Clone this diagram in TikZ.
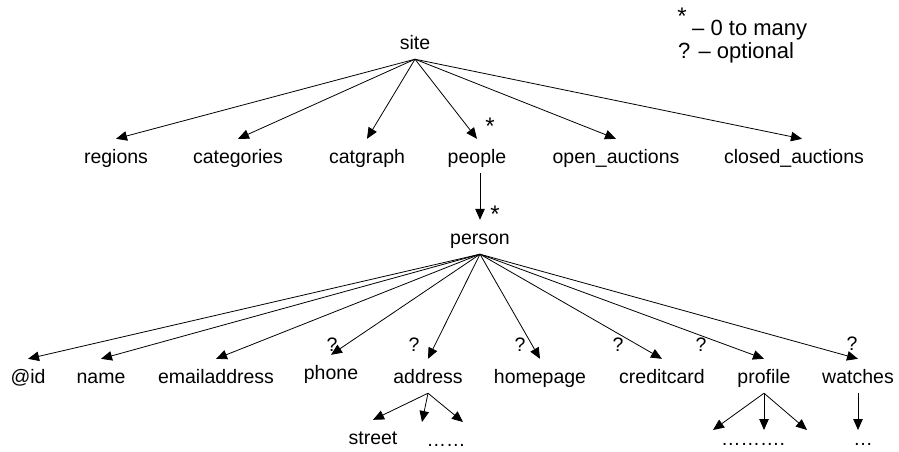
\documentclass[tikz,border=0pt]{standalone}
\usepackage{fontspec}
\setmainfont{Liberation Sans}
\usetikzlibrary{arrows.meta}

\begin{document}
\begin{tikzpicture}[x=1pt,y=-1pt,
    lbl/.style={anchor=base,font=\fontsize{19.5}{22}\selectfont,inner xsep=1pt,inner ysep=10pt,text height=14pt,text depth=0pt},
    dots/.style={lbl,inner ysep=0pt},
    qmark/.style={inner sep=0pt,font=\fontsize{19.5}{22}\selectfont},
    starmark/.style={inner sep=0pt,font=\fontsize{24}{26}\selectfont},
    legend/.style={anchor=base west,inner sep=0pt,font=\fontsize{22}{24}\selectfont},
    link/.style={-{Triangle[length=11pt,width=9.5pt]},line width=0.8pt}]
                                \useasboundingbox (0,0) rectangle (899,451);
                                % legend
                                \node[starmark] (legstar) at (682,16) {*};
                                \node[legend] (legmany) at (692,35) {– 0 to many};
                                \node[legend] (legopt) at (678,58) {? – optional};
                                % root and first level
                                \node[lbl] (site) at (415,49) {site};
                                \node[lbl] (regions) at (116,163) {regions};
                                \node[lbl] (categories) at (238,163) {categories};
                                \node[lbl] (catgraph) at (367,163) {catgraph};
                                \node[lbl] (people) at (477,163) {people};
                                \node[lbl] (open) at (616,163) {open\_auctions};
                                \node[lbl] (closed) at (794,163) {closed\_auctions};
                                \foreach \c in {regions,categories,catgraph,people,open}
                                    \draw[link] (site.south) -- (\c.north);
                                \draw[link] (site.south) -- ([xshift=8pt]closed.north);
                                \node[starmark] (peoplestar) at (490,126) {*};
                                % person
                                \node[lbl] (person) at (480,244) {person};
                                \draw[link] (person.north |- people.south) -- (person.north);
                                \node[starmark] (personstar) at (495,214) {*};
                                % children of person
                                \node[lbl] (atid) at (28,383) {@id};
                                \node[lbl] (name) at (101,383) {name};
                                \node[lbl] (email) at (216,383) {emailaddress};
                                \node[lbl] (phone) at (331,379) {phone};
                                \node[lbl] (address) at (428,383) {address};
                                \node[lbl] (homepage) at (540,383) {homepage};
                                \node[lbl] (creditcard) at (662,383) {creditcard};
                                \node[lbl] (profile) at (764,383) {profile};
                                \node[lbl] (watches) at (858,383) {watches};
                                \foreach \c in {atid,name,email,phone,address,homepage,creditcard,profile,watches}
                                    \draw[link] (person.south) -- (\c.north);
                                \node[qmark] (phoneq) at (332,345) {?};
                                \node[qmark] (addressq) at (414,345) {?};
                                \node[qmark] (homepageq) at (520,345) {?};
                                \node[qmark] (creditq) at (618,345) {?};
                                \node[qmark] (profileq) at (701,345) {?};
                                \node[qmark] (watchesq) at (852,344) {?};
                                % below address, profile, watches
                                \node[lbl] (street) at (373,444) {street};
                                \node[dots] (adrdots) at (446,446) {……};
                                \node[dots] (profdots) at (753,445) {……….};
                                \node[dots] (watchdots) at (863,445) {…};
                                \coordinate (adrmid) at (422,422);
                                \coordinate (adrright) at (463,422);
                                \coordinate (profleft) at (713,430);
                                \coordinate (profmid) at (764,430);
                                \coordinate (profright) at (807,430);
                                \coordinate (watchtip) at (858,430);
                                \draw[link] (address.south) -- (street.north);
                                \draw[link] (address.south) -- (adrmid);
                                \draw[link] (address.south) -- (adrright);
                                \draw[link] (profile.south) -- (profleft);
                                \draw[link] (profile.south) -- (profmid);
                                \draw[link] (profile.south) -- (profright);
                                \draw[link] (watches.south) -- (watchtip);
                            \end{tikzpicture}
\end{document}
